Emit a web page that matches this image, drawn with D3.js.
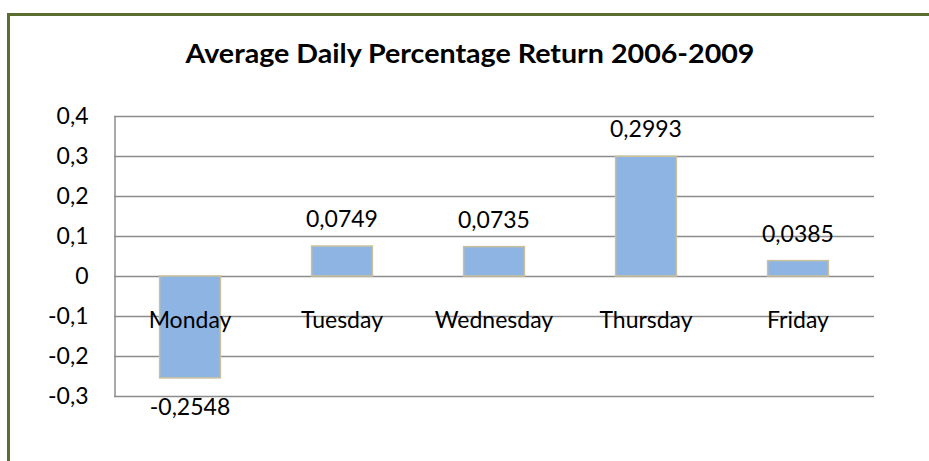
<!DOCTYPE html>
<html><head><meta charset="utf-8">
<script src="https://cdn.jsdelivr.net/npm/d3@7"></script>
<style>body{margin:0;background:#fff}svg{display:block}</style>
</head><body>
<svg id="c" width="929" height="461"></svg>
<script>
const categories = ["Monday","Tuesday","Wednesday","Thursday","Friday"];
const values = [-0.2548, 0.0749, 0.0735, 0.2993, 0.0385];
const valueLabels = ["-0,2548","0,0749","0,0735","0,2993","0,0385"];
const yTicks = [-0.3,-0.2,-0.1,0,0.1,0.2,0.3,0.4];
const yTickLabels = ["-0,3","-0,2","-0,1","0","0,1","0,2","0,3","0,4"];
const title = "Average Daily Percentage Return 2006-2009";

const svg = d3.select("#c");
const font = "Lato, 'Open Sans', sans-serif";
// chart border
svg.append("rect").attr("x",8.5).attr("y",14.5).attr("width",940).attr("height",470)
  .attr("fill","#fff").attr("stroke","#5b6e2f").attr("stroke-width",3);

svg.append("text").attr("x",470).attr("y",63).attr("text-anchor","middle")
  .attr("font-family",font).attr("font-weight","bold").attr("font-size",27)
  .attr("textLength",569).attr("lengthAdjust","spacingAndGlyphs").attr("fill","#000").text(title);

const L=114, R=874, T=116, B=396;
const x = d3.scaleBand().domain(categories).range([L,R]).paddingInner(0.6).paddingOuter(0.3);
const y = d3.scaleLinear().domain([-0.3,0.4]).range([B,T]);

// gridlines
svg.append("g").selectAll("line").data(yTicks).join("line")
  .attr("x1",L).attr("x2",R).attr("y1",d=>Math.round(y(d))+0.5).attr("y2",d=>Math.round(y(d))+0.5)
  .attr("stroke","#8c8c8c").attr("stroke-width",1.5);
// y axis
const yAxis = d3.axisLeft(y).tickValues(yTicks).tickFormat((d,i)=>yTickLabels[i]).tickSize(0).tickPadding(26);
const ga = svg.append("g").attr("transform",`translate(${L+0.5},0)`).call(yAxis);
ga.select(".domain").attr("stroke","#8c8c8c").attr("stroke-width",1.5);
ga.selectAll("text").attr("font-family",font).attr("font-size",23).attr("fill","#000");

// bars
svg.append("g").selectAll("rect").data(values).join("rect")
  .attr("x",(d,i)=>x(categories[i]))
  .attr("width",x.bandwidth())
  .attr("y",d=>y(Math.max(0,d)))
  .attr("height",d=>Math.abs(y(d)-y(0)))
  .attr("fill","#8eb4e3").attr("stroke","#c9c19b").attr("stroke-width",1.5);

// category labels
const xAxis = d3.axisBottom(x).tickSize(0).tickPadding(0);
const gx = svg.append("g").attr("transform",`translate(0,${y(0)})`).call(xAxis);
gx.select(".domain").remove();
gx.selectAll("text").attr("font-family",font).attr("font-size",23).attr("fill","#000")
  .attr("dy",null).attr("y",52);

// value labels
svg.append("g").selectAll("text").data(values).join("text")
  .attr("x",(d,i)=>x(categories[i])+x.bandwidth()/2)
  .attr("y",d=> d<0 ? y(d)+37 : y(d)-19)
  .attr("text-anchor","middle").attr("font-family",font).attr("font-size",23).attr("fill","#000")
  .text((d,i)=>valueLabels[i]);
</script>
</body></html>
